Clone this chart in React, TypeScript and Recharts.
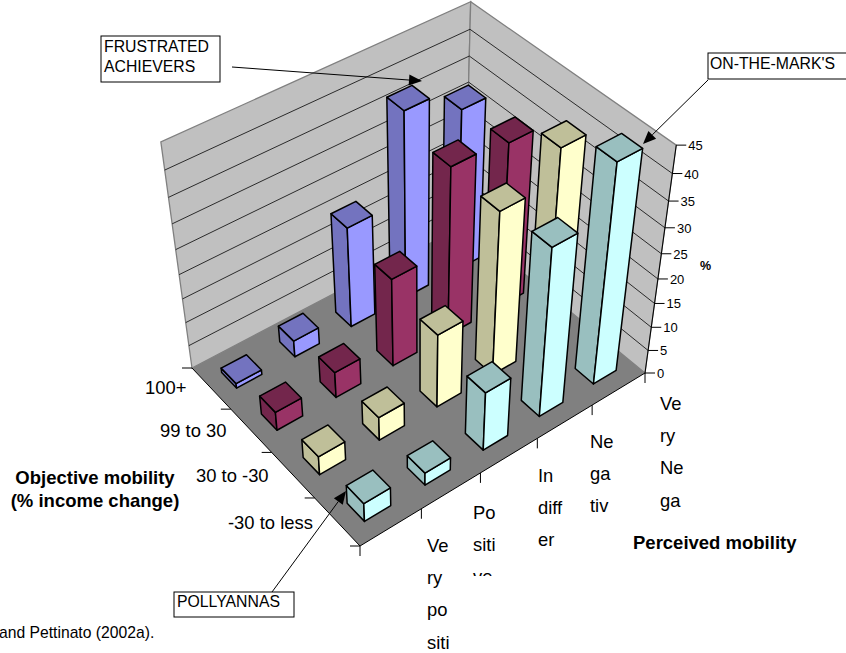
import React from 'react';
import { ScatterChart, Scatter, XAxis, YAxis } from 'recharts';

const WIDTH = 846;
const HEIGHT = 653;
const FONT = '"Liberation Sans", Arial, sans-serif';

// one array per objective mobility group, values in % by perceived mobility
const topIncome = [1, 3.5, 21, 38, 33];
const upperMiddle = [4, 5.5, 18.5, 34.5, 33.5];
const lowerMiddle = [4, 5, 15.5, 33.5, 39.5];
const bottomIncome = [4, 2.7, 12.5, 34.5, 44];

const objectiveLabels = ['100+', '99 to 30', '30 to -30', '-30 to less'];
const perceivedLabels = [
  ['Ve', 'ry', 'po', 'siti'],
  ['Po', 'siti', 've'],
  ['In', 'diff', 'er'],
  ['Ne', 'ga', 'tiv'],
  ['Ve', 'ry', 'Ne', 'ga'],
];
const valueTicks = [0, 5, 10, 15, 20, 25, 30, 35, 40, 45];

const groups = [
  { values: topIncome, front: '#9999FF', shade: '#7373BF' },
  { values: upperMiddle, front: '#993366', shade: '#73264C' },
  { values: lowerMiddle, front: '#FFFFCC', shade: '#BFBF99' },
  { values: bottomIncome, front: '#CCFFFF', shade: '#99BFBF' },
];

// floor corners of the 3D box as seen on the page
const L = [192, 368];
const B = [465, 225];
const R = [645, 373];
const F = [360, 546];
const VANISH = [419.4, 2018];
const Z_PER_UNIT = 0.1205 / 45;

const dx1 = B[0] - R[0];
const dx2 = F[0] - R[0];
const sx = L[0] - B[0] + R[0] - F[0];
const dy1 = B[1] - R[1];
const dy2 = F[1] - R[1];
const sy = L[1] - B[1] + R[1] - F[1];
const det = dx1 * dy2 - dx2 * dy1;
const g = (sx * dy2 - dx2 * sy) / det;
const h = (dx1 * sy - sx * dy1) / det;

// s runs along perceived mobility, t along objective mobility, z is the value in %
const project = (s: number, t: number, z = 0): number[] => {
  const w = g * s + h * t + 1;
  const px = (B[0] - L[0] + g * B[0]) * s + (F[0] - L[0] + h * F[0]) * t + L[0];
  const py = (B[1] - L[1] + g * B[1]) * s + (F[1] - L[1] + h * F[1]) * t + L[1];
  const k = z * Z_PER_UNIT;
  return [(px - k * VANISH[0]) / (w - k), (py - k * VANISH[1]) / (w - k)];
};

const toPoints = (pts: number[][]) => pts.map(p => `${p[0].toFixed(2)},${p[1].toFixed(2)}`).join(' ');

const barRows = groups
  .flatMap((group, row) =>
    group.values.map((value, col) => {
      const [x, y] = project((col + 0.5) / 5, (row + 0.5) / 4);
      return { x, y, row, col, value, front: group.front, shade: group.shade };
    }),
  )
  .sort((a, b) => a.row - b.row || b.col - a.col);

const anchor = [{ x: 0, y: 0 }];

const Bar3D = (props: any) => {
  const { row, col, value, front, shade } = props.payload;
  const s = (col + 0.5) / 5;
  const t = (row + 0.5) / 4;
  const s0 = s - 0.043;
  const s1 = s + 0.043;
  const t0 = t - 0.0415;
  const t1 = t + 0.0535;
  const face = { stroke: '#000', strokeWidth: 1.5, strokeLinejoin: 'round' as const };
  return (
    <g>
      <polygon
        points={toPoints([project(s0, t0), project(s0, t1), project(s0, t1, value), project(s0, t0, value)])}
        fill={shade}
        {...face}
      />
      <polygon
        points={toPoints([project(s0, t1), project(s1, t1), project(s1, t1, value), project(s0, t1, value)])}
        fill={front}
        {...face}
      />
      <polygon
        points={toPoints([project(s0, t0, value), project(s0, t1, value), project(s1, t1, value), project(s1, t0, value)])}
        fill={shade}
        {...face}
      />
    </g>
  );
};

const Backdrop = () => {
  const top = valueTicks[valueTicks.length - 1];
  return (
    <g>
      <polygon
        points={toPoints([project(0, 0), project(1, 0), project(1, 0, top), project(0, 0, top)])}
        fill="#C0C0C0"
        stroke="#808080"
        strokeWidth={1.3}
      />
      <polygon
        points={toPoints([project(1, 0), project(1, 1), project(1, 1, top), project(1, 0, top)])}
        fill="#C0C0C0"
        stroke="#808080"
        strokeWidth={1.3}
      />
      {valueTicks.slice(1, -1).map(v => (
        <polyline
          key={v}
          points={toPoints([project(0, 0, v), project(1, 0, v), project(1, 1, v)])}
          fill="none"
          stroke="#1a1a1a"
          strokeWidth={0.9}
        />
      ))}
      <polygon points={toPoints([project(0, 0), project(1, 0), project(1, 1), project(0, 1)])} fill="#808080" />
      <polyline points={toPoints([project(0, 0), project(0, 1), project(1, 1), project(1, 1, top)])} fill="none" stroke="#000" strokeWidth={1} />
      {valueTicks.map(v => {
        const [x, y] = project(1, 1, v);
        return (
          <g key={v}>
            <line x1={x} y1={y} x2={x + 10} y2={y} stroke="#000" strokeWidth={1} />
            <text x={x + 12} y={y + 5} fontSize={13} fontFamily={FONT} fill="#000">
              {v}
            </text>
          </g>
        );
      })}
      {[0, 1, 2, 3, 4].map(i => {
        const [x, y] = project(0, i / 4);
        return <line key={i} x1={x - 10} y1={y} x2={x} y2={y} stroke="#000" strokeWidth={1} />;
      })}
      {[0, 1, 2, 3, 4, 5].map(i => {
        const [x, y] = project(i / 5, 1);
        return <line key={i} x1={x} y1={y} x2={x} y2={y + 10} stroke="#000" strokeWidth={1} />;
      })}
    </g>
  );
};

const objectiveAt = [
  [145, 394],
  [160, 437],
  [196, 482],
  [228, 529],
];
const perceivedAt = [
  [427, 552],
  [473, 519],
  [538, 482],
  [590, 448],
  [660, 410],
];

const Labels = () => (
  <g fontFamily={FONT} fill="#000">
    <defs>
      <clipPath id="positive-clip">
        <rect x={460} y={500} width={60} height={76} />
      </clipPath>
    </defs>
    {objectiveLabels.map((label, i) => (
      <text key={label} x={objectiveAt[i][0]} y={objectiveAt[i][1]} fontSize={18.4}>
        {label}
      </text>
    ))}
    {perceivedLabels.map((lines, i) => (
      <g key={i} clipPath={i === 1 ? 'url(#positive-clip)' : undefined}>
        {lines.map((line, n) => (
          <text key={n} x={perceivedAt[i][0]} y={perceivedAt[i][1] + n * 32.2} fontSize={18.4}>
            {line}
          </text>
        ))}
      </g>
    ))}
    <g fontWeight="bold" fontSize={18.5}>
      <text x={95} y={484} textAnchor="middle">Objective mobility</text>
      <text x={95} y={507} textAnchor="middle">(% income change)</text>
      <text x={633} y={549}>Perceived mobility</text>
    </g>
    <text x={700} y={270} fontWeight="bold" fontSize={12.5}>%</text>
    <text x={-1} y={638} fontSize={15.7}>and Pettinato (2002a).</text>
  </g>
);

const Arrow = ({ from, to }: { from: number[]; to: number[] }) => {
  const dx = to[0] - from[0];
  const dy = to[1] - from[1];
  const len = Math.hypot(dx, dy);
  const ux = dx / len;
  const uy = dy / len;
  const bx = to[0] - ux * 13;
  const by = to[1] - uy * 13;
  return (
    <g>
      <line x1={from[0]} y1={from[1]} x2={bx} y2={by} stroke="#000" strokeWidth={1} />
      <polygon
        points={toPoints([to, [bx - uy * 5.5, by + ux * 5.5], [bx + uy * 5.5, by - ux * 5.5]])}
        fill="#000"
      />
    </g>
  );
};

const Callouts = () => (
  <g fontFamily={FONT} fontSize={15.8} fill="#000">
    <rect x={101} y={36} width={119} height={46} fill="#fff" stroke="#000" strokeWidth={1} />
    <text x={104} y={52}>FRUSTRATED</text>
    <text x={104} y={72}>ACHIEVERS</text>
    <Arrow from={[232, 67]} to={[422, 81]} />
    <rect x={708} y={53} width={140} height={26} fill="#fff" stroke="#000" strokeWidth={1} />
    <text x={710} y={69}>ON-THE-MARK'S</text>
    <Arrow from={[708, 80]} to={[643, 144]} />
    <rect x={174} y={592} width={120} height={25} fill="#fff" stroke="#000" strokeWidth={1} />
    <text x={177} y={607}>POLLYANNAS</text>
    <Arrow from={[272, 592]} to={[346, 491]} />
  </g>
);

const App = () => (
  <div style={{ position: 'absolute', left: 0, top: 0, width: WIDTH, height: HEIGHT, background: '#fff' }}>
    <ScatterChart width={WIDTH} height={HEIGHT} margin={{ top: 0, right: 0, bottom: 0, left: 0 }}>
      <XAxis type="number" dataKey="x" domain={[0, WIDTH]} hide />
      <YAxis type="number" dataKey="y" domain={[0, HEIGHT]} reversed hide />
      <Scatter data={anchor} shape={() => <Backdrop />} isAnimationActive={false} />
      <Scatter data={barRows} shape={(p: any) => <Bar3D {...p} />} isAnimationActive={false} />
      <Scatter data={anchor} shape={() => <Labels />} isAnimationActive={false} />
      <Scatter data={anchor} shape={() => <Callouts />} isAnimationActive={false} />
    </ScatterChart>
  </div>
);

export default App;
